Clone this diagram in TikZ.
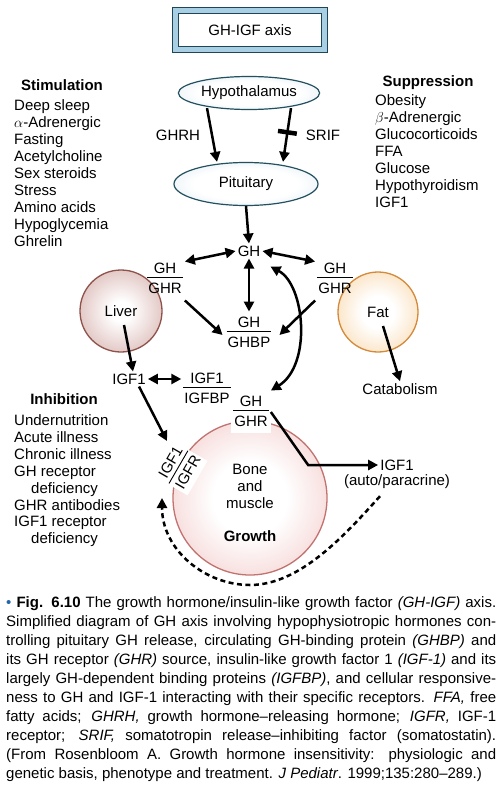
\documentclass[tikz,border=0pt]{standalone}
\usepackage{fontspec}
\setmainfont{Liberation Sans}
\usepackage{xcolor}
\usetikzlibrary{arrows.meta,positioning,shapes.geometric}

\definecolor{axisblue}{HTML}{A9CFE5}
\definecolor{axisedge}{HTML}{1F4656}
\definecolor{glandblue}{HTML}{C2D9E7}
\definecolor{glandedge}{HTML}{22505F}
\definecolor{liverrose}{HTML}{BE837C}
\definecolor{liveredge}{HTML}{8E524B}
\definecolor{fatorange}{HTML}{F5BF78}
\definecolor{fatedge}{HTML}{D38A3A}
\definecolor{bonepink}{HTML}{E9A5A2}
\definecolor{boneedge}{HTML}{C27370}
\definecolor{bulletblue}{HTML}{2566A8}

\pgfdeclareradialshading{glandshade}{\pgfpointorigin}{color(0bp)=(white); color(18bp)=(white); color(50bp)=(glandblue)}
\pgfdeclareradialshading{livershade}{\pgfpointorigin}{color(0bp)=(white); color(6bp)=(white); color(50bp)=(liverrose)}
\pgfdeclareradialshading{fatshade}{\pgfpointorigin}{color(0bp)=(white); color(10bp)=(white); color(50bp)=(fatorange)}
\pgfdeclareradialshading{boneshade}{\pgfpointorigin}{color(0bp)=(white); color(12bp)=(white); color(50bp)=(bonepink)}

\setlength{\arrayrulewidth}{0.9pt}

\tikzset{
	txt/.style={font=\fontsize{15}{17}\selectfont, inner sep=2pt},
	titlebox/.style={txt, draw=axisedge, double=axisblue, double distance=5.5pt, line width=0.8pt, fill=white, minimum width=149pt, minimum height=39pt},
	gland/.style={txt, ellipse, draw=glandedge, line width=1.2pt, shading=glandshade},
	organ/.style={txt, circle, line width=1.3pt},
	listhead/.style={txt, font=\fontsize{15}{17}\selectfont\bfseries, anchor=base, inner sep=0pt},
	listitem/.style={txt, anchor=base west, inner sep=0pt},
	blockbar/.style={fill=black, inner sep=0pt, minimum width=4.5pt, minimum height=19pt, sloped},
	arr/.style={line width=2.5pt, -{Triangle[length=10pt,width=10pt]}},
	dblarr/.style={line width=2.5pt, {Triangle[length=10pt,width=10pt]}-{Triangle[length=10pt,width=10pt]}},
	caption/.style={inner sep=0pt, text width=490pt, align=justify, font=\fontsize{15}{19}\selectfont}
}
\newcommand{\ratio}[2]{\begin{tabular}{@{\hspace{1pt}}c@{\hspace{1pt}}}\raisebox{-1.5pt}{#1}\\\hline\rule{0pt}{15.5pt}#2\end{tabular}}

\begin{document}
\begin{tikzpicture}[x=1pt,y=-1pt]
	\useasboundingbox (0,0) rectangle (501,787);

	\node[titlebox] (title) at (250,30) {GH-IGF axis};

	% Stimulation, suppression and inhibition lists are drawn.
	\node[listhead] (stim-head) at (62,90.4) {Stimulation};
	\foreach \txt [count=\i] in {Deep sleep, $\alpha$-Adrenergic, Fasting, Acetylcholine, Sex steroids, Stress, Amino acids, Hypoglycemia, Ghrelin}
		\node[listitem] (stim-\i) at (14,{93.4+17*\i}) {\txt};

	\node[listhead] (supp-head) at (428,86.4) {Suppression};
	\foreach \txt [count=\i] in {Obesity, $\beta$-Adrenergic, Glucocorticoids, FFA, Glucose, Hypothyroidism, IGF1}
		\node[listitem] (supp-\i) at (375,{88.5+17*\i}) {\txt};

	\node[listhead] (inhib-head) at (64,404.4) {Inhibition};
	\foreach \txt [count=\i] in {Undernutrition, Acute illness, Chronic illness, GH receptor, \hspace{17pt}deficiency, GHR antibodies, IGF1 receptor, \hspace{17pt}deficiency}
		\node[listitem] (inhib-\i) at (14,{408.6+16.9*\i}) {\txt};

	% Hypothalamus and pituitary are drawn.
	\node[gland, minimum width=136pt, minimum height=33pt] (hypo) at (249,93) {Hypothalamus};
	\node[gland, minimum width=144pt, minimum height=43pt] (pit) at (246,184) {Pituitary};
	\node[txt] (ghrh) at (178,135) {GHRH};
	\node[txt] (srif) at (323,135) {SRIF};

	\draw[arr] ([xshift=-42pt,yshift=2pt]hypo.south) -- ([xshift=-29pt]pit.north);
	\draw[arr] ([xshift=42pt,yshift=2pt]hypo.south) -- node[blockbar, pos=.45] (block) {} ([xshift=37pt]pit.north);

	% Liver, fat and bone are drawn under the labels.
	\node[organ, draw=liveredge, shading=livershade, minimum size=82pt] (liver) at (121,311) {Liver};
	\node[organ, draw=fatedge, shading=fatshade, minimum size=80pt] (fat) at (378,312) {Fat};
	\node[organ, draw=boneedge, shading=boneshade, minimum size=154pt] (bone) at (250,498) {};

	% GH and its binding partners are drawn.
	\node[txt] (gh) at (249,251) {GH};
	\node[txt] (ghr-left) at (165,279) {\ratio{GH}{GHR}};
	\node[txt] (ghr-right) at (335,279) {\ratio{GH}{GHR}};
	\node[txt] (ghbp) at (249,333) {\ratio{GH}{GHBP}};

	\draw[arr] (pit.south) -- (gh.north);
	\draw[dblarr] (gh.west) -- ([yshift=-4pt]ghr-left.north east);
	\draw[dblarr] (gh.east) -- ([yshift=-4pt]ghr-right.north west);
	\draw[dblarr] (gh.south) -- (ghbp.north);
	\draw[arr] (ghr-left.south east) -- ([xshift=-2pt,yshift=-2pt]ghbp.west);
	\draw[arr] (ghr-right.south west) -- ([xshift=6pt,yshift=-2pt]ghbp.east);

	\node[txt] (igf-liver) at (129,379) {IGF1};
	\node[txt] (igfbp) at (207,389) {\ratio{IGF1}{IGFBP}};
	\node[txt] (catab) at (400,389) {Catabolism};

	\draw[arr] ([shift={(3,14)}]liver.center) -- ([xshift=4pt]igf-liver.north);
	\draw[arr] ([shift={(5,14)}]fat.center) -- (catab.north);
	\draw[dblarr] (igf-liver.east) -- (igfbp.west |- igf-liver.east);

	% Bone and muscle sub diagram is drawn.
	\node[txt, align=center] (bone-text) at (250,486) {Bone\\and\\muscle};
	\node[txt, font=\fontsize{15}{17}\selectfont\bfseries] (growth) at (250,536) {Growth};
	\node[txt, fill=white] (ghr-bone) at (251,412) {\ratio{GH}{GHR}};
	\node[txt, fill=white, rotate=60, inner sep=1pt] (igfr) at (180,468) {\ratio{IGF1}{IGFR}};
	\node[txt] (igf-auto) at (397,465) {IGF1};
	\node[txt] (auto-note) at (397,482) {(auto/paracrine)};

	\draw[arr] ([xshift=10pt]igf-liver.south) -- ([shift={(-13,-27)}]igfr.center);
	\draw[dblarr] ([shift={(8,8)}]gh.south east) .. controls (305,285) and (312,365) .. (ghr-bone.north east);
	\draw[arr, line join=miter] (ghr-bone.east) -- ([xshift=-70pt]igf-auto.west) -- (igf-auto.west);

	\coordinate (loop-start) at ([xshift=-17pt,yshift=-5pt]auto-note.south);
	\coordinate (loop-end) at ([shift={(-18,30)}]igfr.center);
	\draw[arr, dash pattern=on 5pt off 3.5pt] (loop-start) .. controls (345,535) and (300,585) .. (250,585) .. controls (205,585) and (162,550) .. (loop-end);

	% Caption is drawn.
	\node[caption, anchor=north west] (cap) at (6,596.5) {\hyphenpenalty=10000 \exhyphenpenalty=10000 \textcolor{bulletblue}{\textbullet} \textbf{Fig. 6.10} The growth hormone/insulin-like growth factor \textit{(GH-IGF)} axis.\linebreak
		Simplified diagram of GH axis involving hypophysiotropic hormones con-\linebreak
		trolling pituitary GH release, circulating GH-binding protein \textit{(GHBP)} and\linebreak
		its GH receptor \textit{(GHR)} source, insulin-like growth factor 1 \textit{(IGF-1)} and its\linebreak
		largely GH-dependent binding proteins \textit{(IGFBP)}, and cellular responsive-\linebreak
		ness to GH and IGF-1 interacting with their specific receptors. \textit{FFA,} free\linebreak
		fatty acids; \textit{GHRH,} growth hormone--releasing hormone; \textit{IGFR,} IGF-1\linebreak
		receptor; \textit{SRIF,} somatotropin release--inhibiting factor (somatostatin).\linebreak
		(From Rosenbloom A. Growth hormone insensitivity: physiologic and\linebreak
		genetic basis, phenotype and treatment. \textit{J Pediatr}. 1999;135:280--289.)};
\end{tikzpicture}
\end{document}
